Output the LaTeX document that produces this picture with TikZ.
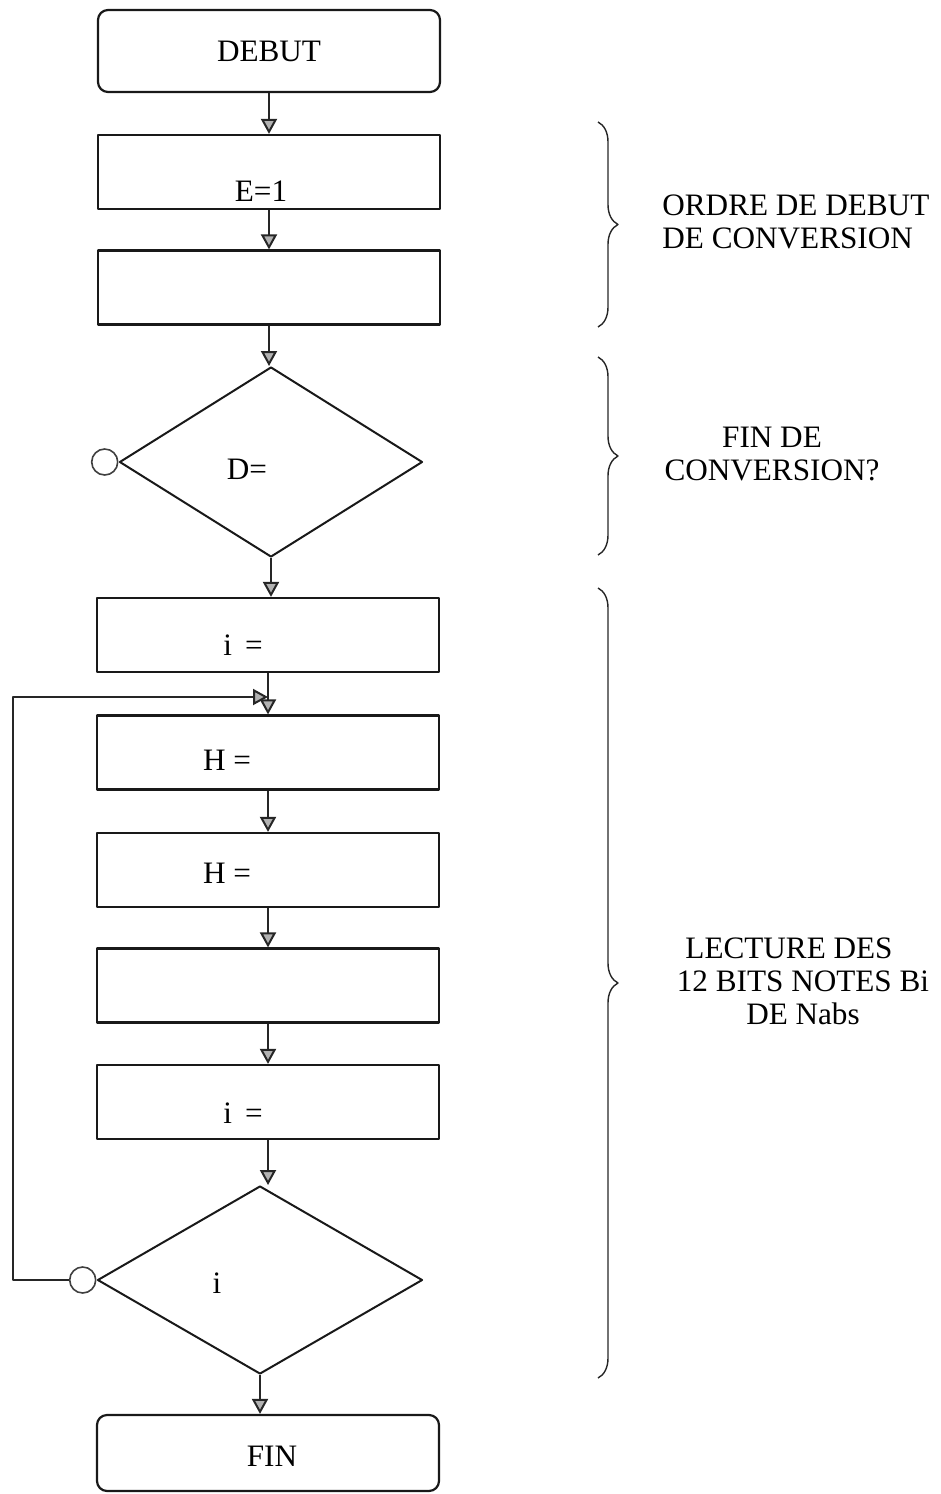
\documentclass[tikz,border=0pt]{standalone}
\usepackage{fontspec}
\setmainfont{Liberation Serif}
\usetikzlibrary{arrows.meta, shapes.geometric, decorations.pathreplacing}
\tikzstyle{flow} = [line width=1pt, draw=black!85, -{Triangle[length=7.5pt, width=8pt, fill=gray!60]}]
\tikzstyle{box} = [rectangle, draw=black!90, line width=1.1pt, minimum width=171pt, minimum height=37pt, inner sep=0pt]
\tikzstyle{term} = [box, rounded corners=5pt]
\tikzstyle{test} = [diamond, draw=black!90, line width=1pt, inner sep=0pt]
\tikzstyle{knot} = [circle, draw=black!75, line width=0.8pt, minimum size=13pt, inner sep=0pt]
\tikzstyle{lbl} = [font=\fontsize{15.6}{16.5}\selectfont, inner sep=0pt]
\tikzstyle{curly} = [draw=black!85, line width=0.7pt, decorate, decoration={brace, amplitude=10pt}]

\begin{document}
\begin{tikzpicture}[x=0.5pt, y=-0.5pt, line join=round]
    \useasboundingbox (0,0) rectangle (941,1494);

    % Main column of the flowchart
    \node[term, minimum height=41pt] (debut) at (269,51)     {};
    \node[box]                       (e1)    at (269,172)    {};
    \node[box]                       (start) at (269,287.5)  {};
    \node[test, minimum width=151.5pt, minimum height=95pt] (d1) at (271,462) {};
    \node[knot, anchor=east]         (c1)    at (d1.west)    {};
    \node[box]                       (i1)    at (268,635)    {};
    \node[box]                       (h1)    at (268,752.5)  {};
    \node[box]                       (h2)    at (268,870)    {};
    \node[box]                       (rd)    at (268,985.5)  {};
    \node[box]                       (i2)    at (268,1102)   {};
    \node[test, minimum width=162.5pt, minimum height=94pt] (d2) at (260,1280) {};
    \node[knot, anchor=east]         (c2)    at (d2.west)    {};
    \node[term, minimum height=38pt] (fin)   at (268,1453)   {};

    % Texts inside the shapes
    \node[lbl] at (debut.center)                  {DEBUT};
    \node[lbl] at ([shift={(-8,19)}]e1.center)    {E=1};
    \node[lbl] at ([shift={(-24,7)}]d1.center)    {D=};
    \node[lbl] at ([shift={(-25,10)}]i1.center)   {i \,=};
    \node[lbl] at ([shift={(-41,8)}]h1.center)    {H =};
    \node[lbl] at ([shift={(-41,3)}]h2.center)    {H =};
    \node[lbl] at ([shift={(-25,11)}]i2.center)   {i \,=};
    \node[lbl] at ([shift={(-43,3)}]d2.center)    {i};
    \node[lbl] at ([shift={(4,3)}]fin.center)     {FIN};

    % Connectors
    \draw[flow] (debut) -- (e1);
    \draw[flow] (e1) -- (start);
    \draw[flow] (start) -- (start |- d1.north);
    \draw[flow] (d1.south) -- (d1.south |- i1.north);
    \draw[flow] (i1) -- (h1);
    \draw[flow] (h1) -- (h2);
    \draw[flow] (h2) -- (rd);
    \draw[flow] (rd) -- (i2);
    \draw[flow] (i2) -- (i2 |- d2.north);
    \draw[flow] (d2.south) -- (d2.south |- fin.north);

    % Loop back from the second test
    \coordinate (join)     at (268,697);
    \coordinate (loopleft) at (13,697);
    \draw[flow] (c2.west) -| (loopleft) -- (join);

    % Braces and comments on the right
    \draw[curly] (598,122) -- (598,327);
    \draw[curly] (598,357) -- (598,555);
    \draw[curly] (598,588) -- (598,1378);

    \node[lbl, align=left, anchor=west] (ordre) at (662,222)
      {ORDRE DE DEBUT\\DE CONVERSION};
    \node[lbl, align=center] (fdc) at (772,454)
      {FIN DE\\CONVERSION?};
    \node[lbl, align=center] (lect) at (803,981)
      {LECTURE DES\hspace*{14pt}\\12 BITS NOTES Bi\\DE Nabs};
  \end{tikzpicture}
\end{document}
